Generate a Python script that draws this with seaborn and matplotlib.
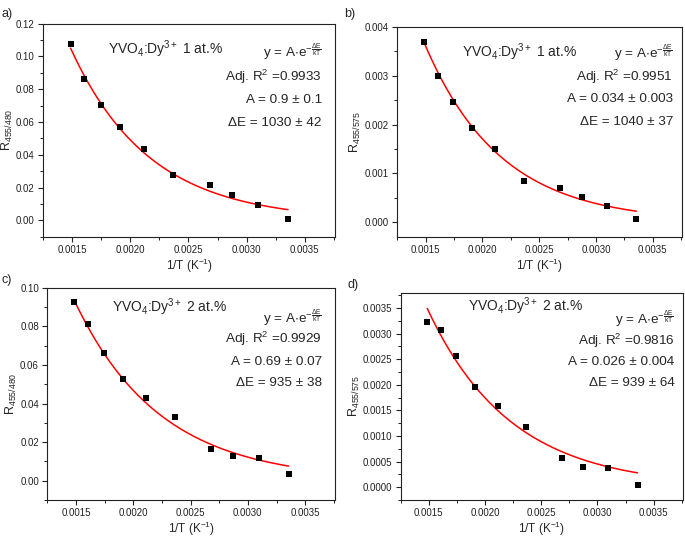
import numpy as np
import pandas as pd
import matplotlib
matplotlib.use("Agg")
import matplotlib.pyplot as plt
from matplotlib.ticker import FormatStrFormatter, MultipleLocator, AutoMinorLocator
import seaborn as sns

# 1/T values (K^-1), same for all panels
inv_T = [0.001486, 0.001605, 0.001745, 0.001912, 0.002114,
         0.002364, 0.002681, 0.002874, 0.003096, 0.003356]

# measured ratios
r_a = [0.1075, 0.0860, 0.0702, 0.0568, 0.0437, 0.0279, 0.0215, 0.0154, 0.0094, 0.0010]
r_b = [0.00368, 0.00299, 0.00246, 0.00193, 0.00150, 0.00085, 0.00070, 0.00051, 0.00034, 0.00007]
r_c = [0.0927, 0.0812, 0.0660, 0.0525, 0.0428, 0.0330, 0.0164, 0.0126, 0.0119, 0.0035]
r_d = [0.00322, 0.00307, 0.00256, 0.00196, 0.00158, 0.00117, 0.00056, 0.00040, 0.00037, 0.00004]

# fit parameters (A, dE in cm^-1)
fit_A = [0.95, 0.034, 0.69, 0.026]
fit_dE = [1030, 1040, 935, 939]

panel_tags = ["a)", "b)", "c)", "d)"]
samples = ["1", "1", "2", "2"]
ylabels = ["455/480", "455/575", "455/480", "455/575"]
adj_r2 = ["0.9933", "0.9951", "0.9929", "0.9816"]
A_txt = ["0.9 ± 0.1", "0.034 ± 0.003", "0.69 ± 0.07", "0.026 ± 0.004"]
dE_txt = ["1030 ± 42", "1040 ± 37", "935 ± 38", "939 ± 64"]

ylims = [(-0.01, 0.12), (-0.0003, 0.004), (-0.01, 0.10), (-0.00025, 0.0038)]
ysteps = [0.02, 0.001, 0.02, 0.0005]
yfmts = ["%.2f", "%.3f", "%.2f", "%.4f"]

# axes rectangles (fig fractions)
rects = [
    [0.063, 0.559, 0.426, 0.397],
    [0.580, 0.559, 0.416, 0.391],
    [0.069, 0.069, 0.420, 0.395],
    [0.585, 0.069, 0.412, 0.386],
]
tag_pos = [(0.002, 0.985), (0.503, 0.985), (0.002, 0.49), (0.508, 0.48)]
title_pos = [(0.223, 0.878), (0.228, 0.88), (0.226, 0.91), (0.238, 0.937)]
text_x = [0.955, 0.968, 0.955, 0.97]
text_y = [[0.864, 0.751, 0.643, 0.535],
          [0.876, 0.762, 0.657, 0.548],
          [0.858, 0.76, 0.65, 0.55],
          [0.87, 0.768, 0.667, 0.565]]

sns.set_style("ticks")
plt.rcParams["font.family"] = ["Liberation Sans", "DejaVu Sans"]
plt.rcParams["mathtext.fontset"] = "custom"
plt.rcParams["mathtext.rm"] = "Liberation Sans"
plt.rcParams["mathtext.it"] = "Liberation Sans:italic"
plt.rcParams["mathtext.default"] = "regular"

fig = plt.figure(figsize=(6.85, 5.37), dpi=100)

ratios = [r_a, r_b, r_c, r_d]
hc_k = 1.4388  # cm K

for i in range(4):
    ax = fig.add_axes(rects[i])
    df = pd.DataFrame({"x": inv_T, "y": ratios[i]})
    xs = np.linspace(inv_T[0], inv_T[-1], 200)
    fit_df = pd.DataFrame({"x": xs, "y": fit_A[i] * np.exp(-fit_dE[i] * hc_k * xs)})

    sns.lineplot(data=fit_df, x="x", y="y", ax=ax, color="red", linewidth=1.1)
    sns.scatterplot(data=df, x="x", y="y", ax=ax, marker="s", color="black",
                    s=18, edgecolor="black", linewidth=0, zorder=3)

    ax.set_xlim(0.00125, 0.00376)
    ax.set_ylim(*ylims[i])
    ax.xaxis.set_major_locator(MultipleLocator(0.0005))
    ax.xaxis.set_minor_locator(AutoMinorLocator(2))
    ax.xaxis.set_major_formatter(FormatStrFormatter("%.4f"))
    ax.yaxis.set_major_locator(MultipleLocator(ysteps[i]))
    ax.yaxis.set_minor_locator(AutoMinorLocator(2))
    ax.yaxis.set_major_formatter(FormatStrFormatter(yfmts[i]))
    ax.tick_params(which="major", direction="out", length=3.5, width=0.8,
                   labelsize=7, colors="#222222", pad=2.5)
    ax.tick_params(which="minor", direction="out", length=2, width=0.7, colors="#222222")
    for sp in ax.spines.values():
        sp.set_linewidth(0.8)
        sp.set_color("#222222")

    ax.set_xlabel("1/T (K$^{-1}$)", fontsize=8.5, labelpad=1)
    ax.set_ylabel("R$_{" + ylabels[i] + "}$", fontsize=9, labelpad=1)

    ax.text(*title_pos[i], "YVO$_4$:Dy$^{3+}$ " + samples[i] + " at.%",
            transform=ax.transAxes, fontsize=10, ha="left", va="center")
    lines = [r"y = A$\cdot$e$^{-\frac{\Delta E}{kT}}$",
             "Adj. R$^2$ =" + adj_r2[i],
             "A = " + A_txt[i],
             "ΔE = " + dE_txt[i]]
    for j, t in enumerate(lines):
        ax.text(text_x[i], text_y[i][j], t, transform=ax.transAxes,
                fontsize=9.7, ha="right", va="center")

    fig.text(*tag_pos[i], panel_tags[i], fontsize=9, ha="left", va="top")

fig.savefig("out.png", dpi=100)
